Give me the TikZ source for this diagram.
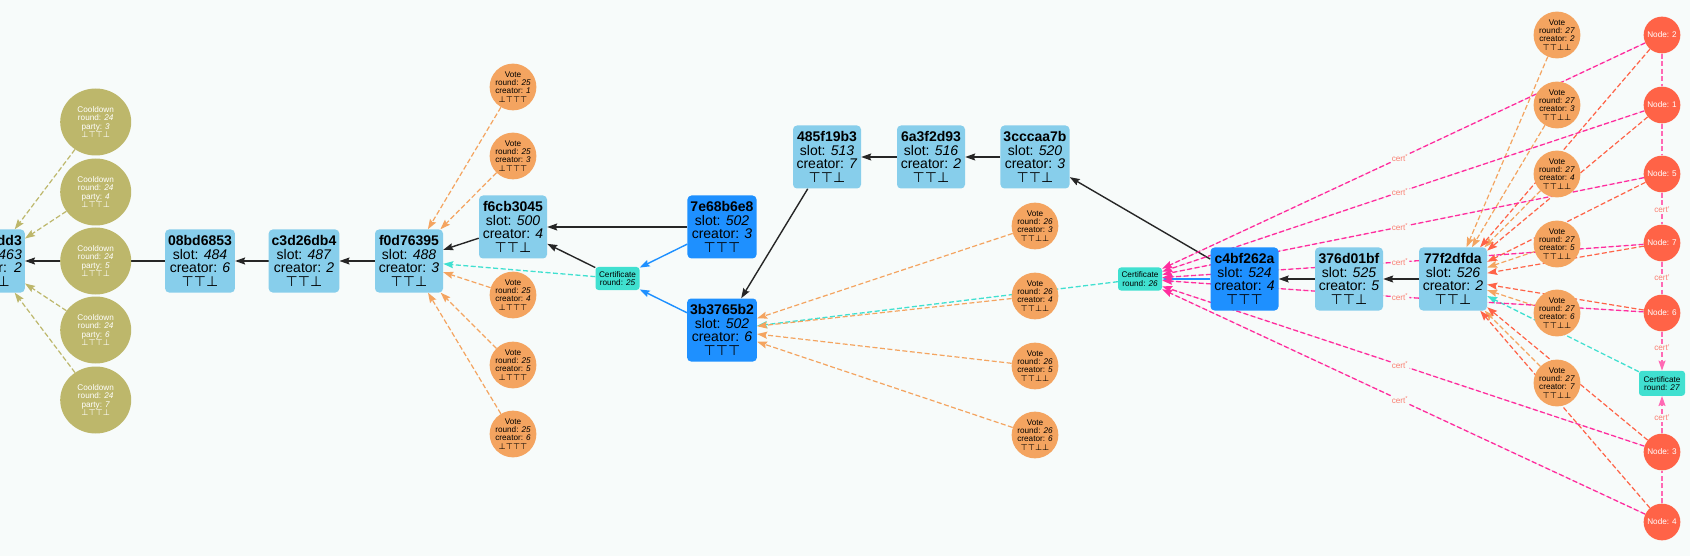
\documentclass[tikz,border=0pt]{standalone}
\usepackage{fontspec}
\setmainfont{Liberation Sans}
\newfontfamily\symf{DejaVu Sans}
\usetikzlibrary{arrows.meta,shapes.geometric}
\pgfdeclarelayer{bg}
\pgfsetlayers{bg,main}
\definecolor{bgc}{RGB}{247,251,250}
\definecolor{skyb}{HTML}{87CEEB}
\definecolor{dodger}{HTML}{1E90FF}
\definecolor{sandy}{HTML}{F4A460}
\definecolor{khaki}{HTML}{BDB76B}
\definecolor{tomatoc}{HTML}{FF6347}
\definecolor{turq}{HTML}{40E0D0}
\definecolor{dpink}{HTML}{FF2D9E}
\definecolor{hpink}{HTML}{FF69B4}
\definecolor{salm}{HTML}{FA8072}
\newcommand\tacks[1]{{\symf #1}}
\begin{document}
\begin{tikzpicture}[x=1pt,y=-1pt,
  arr/.style={-{Stealth[length=10pt,width=7pt,inset=1.5pt]}},
  blk/.style={rectangle,rounded corners=4pt,fill=skyb,align=center,
    font=\fontsize{14pt}{13.7pt}\selectfont,minimum width=68pt,minimum height=63pt,
    inner xsep=3pt,inner ysep=2pt,text=black},
  dblk/.style={blk,fill=dodger},
  vote/.style={circle,fill=sandy,minimum size=43.4pt,inner sep=0pt,align=center,
    font=\fontsize{8.2pt}{8.3pt}\selectfont},
  cool/.style={ellipse,fill=khaki,minimum width=71pt,minimum height=67pt,inner sep=0pt,
    align=center,text=white,font=\fontsize{8.2pt}{8.3pt}\selectfont},
  pnode/.style={circle,fill=tomatoc,minimum size=36.7pt,inner sep=0pt,text=white,
    font=\fontsize{8.2pt}{8.3pt}\selectfont},
  certbox/.style={rectangle,rounded corners=3pt,fill=turq,minimum width=44pt,
    minimum height=23pt,inner sep=1pt,align=center,font=\fontsize{8.2pt}{8.3pt}\selectfont},
  lab/.style={text=salm,inner sep=1pt,font=\fontsize{8.2pt}{8.3pt}\selectfont},
  dsh/.style={dash pattern=on 5pt off 2.5pt},
  bke/.style={arr,draw=black!85,line width=1.4pt},
  blue e/.style={arr,draw=dodger,fill=dodger,line width=1.4pt},
  tqe/.style={arr,dsh,draw=turq,line width=1.3pt},
  sde/.style={arr,dsh,draw=sandy,line width=1.2pt},
  khe/.style={arr,dsh,draw=khaki,line width=1.2pt},
  tme/.style={arr,dsh,draw=tomatoc,line width=1.2pt},
  pke/.style={dsh,draw=dpink,line width=1.3pt},
  pve/.style={dsh,draw=hpink,line width=1.3pt}]
\useasboundingbox (0,0) rectangle (1690,556);

% ---- blocks ----
\node[blk,anchor=east,text width=62pt,align=right] (b0) at (25,261)
  {\textbf{dd3}\\\textit{463}\hspace*{3pt}\\r: \textit{2}\\\tacks{⊥}\hspace*{12pt}};
\node[blk] (b1) at (200,261) {\textbf{08bd6853}\\slot: \textit{484}\\creator: \textit{6}\\\tacks{⊤⊤⊥}};
\node[blk] (b2) at (304,261) {\textbf{c3d26db4}\\slot: \textit{487}\\creator: \textit{2}\\\tacks{⊤⊤⊥}};
\node[blk] (b3) at (409,261) {\textbf{f0d76395}\\slot: \textit{488}\\creator: \textit{3}\\\tacks{⊤⊤⊥}};
\node[blk] (b4) at (513,227) {\textbf{f6cb3045}\\slot: \textit{500}\\creator: \textit{4}\\\tacks{⊤⊤⊥}};
\node[dblk] (b5) at (722,227) {\textbf{7e68b6e8}\\slot: \textit{502}\\creator: \textit{3}\\\tacks{⊤⊤⊤}};
\node[dblk] (b6) at (722,330) {\textbf{3b3765b2}\\slot: \textit{502}\\creator: \textit{6}\\\tacks{⊤⊤⊤}};
\node[blk] (b7) at (827,157) {\textbf{485f19b3}\\slot: \textit{513}\\creator: \textit{7}\\\tacks{⊤⊤⊥}};
\node[blk] (b8) at (931,157) {\textbf{6a3f2d93}\\slot: \textit{516}\\creator: \textit{2}\\\tacks{⊤⊤⊥}};
\node[blk] (b9) at (1035,157) {\textbf{3cccaa7b}\\slot: \textit{520}\\creator: \textit{3}\\\tacks{⊤⊤⊥}};
\node[dblk] (b10) at (1244.5,279) {\textbf{c4bf262a}\\slot: \textit{524}\\creator: \textit{4}\\\tacks{⊤⊤⊤}};
\node[blk] (b11) at (1349,279) {\textbf{376d01bf}\\slot: \textit{525}\\creator: \textit{5}\\\tacks{⊤⊤⊥}};
\node[blk] (b12) at (1453,279) {\textbf{77f2dfda}\\slot: \textit{526}\\creator: \textit{2}\\\tacks{⊤⊤⊥}};

% ---- certificates ----
\node[certbox] (c25) at (617.5,278.5) {Certificate\\round: \textit{25}};
\node[certbox] (c26) at (1140,279) {Certificate\\round: \textit{26}};
\node[certbox,minimum width=46pt,minimum height=25pt] (c27) at (1662,383.3) {Certificate\\round: \textit{27}};

% ---- cooldowns ----
\foreach \p/\y in {3/122,4/192,5/261,6/330,7/400}
  \node[cool] (cd\p) at (95.7,\y) {Cooldown\\round: \textit{24}\\party: \textit{\p}\\\tacks{⊥⊤⊤⊥}};

% ---- votes ----
\foreach \c/\y in {1/87,3/156,4/295,5/365,6/434}
  \node[vote] (va\c) at (513,\y) {Vote\\round: \textit{25}\\creator: \textit{\c}\\\tacks{⊥⊤⊤⊤}};
\foreach \c/\y in {3/226,4/296,5/366,6/435}
  \node[vote] (vb\c) at (1035,\y) {Vote\\round: \textit{26}\\creator: \textit{\c}\\\tacks{⊤⊤⊥⊥}};
\foreach \c/\y in {2/35,3/105,4/174,5/244,6/313,7/383}
  \node[vote] (vc\c) at (1557,\y) {Vote\\round: \textit{27}\\creator: \textit{\c}\\\tacks{⊤⊤⊥⊥}};

% ---- parties ----
\foreach \k/\y in {2/35,1/105,5/174,7/243,6/313,3/452,4/522}
  \node[pnode] (n\k) at (1662,\y) {Node: \k};

% ---- labels ----
\foreach \k/\y in {2/158,1/192,5/227,7/262,6/297,3/365,4/400}
  \node[lab] (p\k) at (1400,\y) {cert\textsuperscript{*}};
\node[lab] (q1) at (1662,210) {cert'};
\node[lab] (q2) at (1662,278) {cert'};
\node[lab] (q3) at (1662,348) {cert'};
\node[lab] (q4) at (1662,418) {cert'};

\begin{pgfonlayer}{bg}
\fill[bgc] (0,0) rectangle (1690,556);
% chain
\draw[bke] (b1) -- (b0);
\draw[bke] (b2) -- (b1);
\draw[bke] (b3) -- (b2);
\draw[bke] (b4) -- (b3);
\draw[bke] (b5) -- (b4);
\draw[bke] (c25) -- (b4);
\draw[bke] (b7) -- (b6);
\draw[bke] (b8) -- (b7);
\draw[bke] (b9) -- (b8);
\draw[bke] (b10) -- (b9);
\draw[bke] (b11) -- (b10);
\draw[bke] (b12) -- (b11);
% blue
\draw[blue e] (b5) -- (c25);
\draw[blue e] (b6) -- (c25);
\draw[blue e] (b10) -- (c26);
% turquoise
\draw[tqe] (c25) -- (b3);
\draw[tqe] (c26) -- (b6);
\draw[tqe] (c27) -- (b12);
% votes
\foreach \c in {1,3,4,5,6} \draw[sde] (va\c) -- (b3);
\foreach \c in {3,4,5,6} \draw[sde] (vb\c) -- (b6);
\foreach \c in {2,3,4,5,6,7} \draw[sde] (vc\c) -- (b12);
% cooldowns
\foreach \p in {3,4,6,7} \draw[khe] (cd\p) -- (b0);
% parties to tip
\foreach \k in {2,1,5,7,6,3,4} \draw[tme] (n\k) -- (b12);
% parties to cert 26
\foreach \k in {2,1,5,7,6,3,4}
  \draw[pke,-{Stealth[length=10pt,width=7pt,inset=1.5pt]},fill=dpink] (n\k) -- (p\k) -- (c26);
% vertical cert'
\draw[pve] (n2) -- (n1);
\draw[pve] (n1) -- (n5);
\draw[pve] (n5) -- (q1) -- (n7);
\draw[pve] (n7) -- (q2) -- (n6);
\draw[pve,-{Stealth[length=10pt,width=7pt,inset=1.5pt]}] (n6) -- (q3) -- (c27);
\draw[pve] (n4) -- (n3);
\draw[pve,-{Stealth[length=10pt,width=7pt,inset=1.5pt]}] (n3) -- (q4) -- (c27);
\end{pgfonlayer}
\end{tikzpicture}
\end{document}
